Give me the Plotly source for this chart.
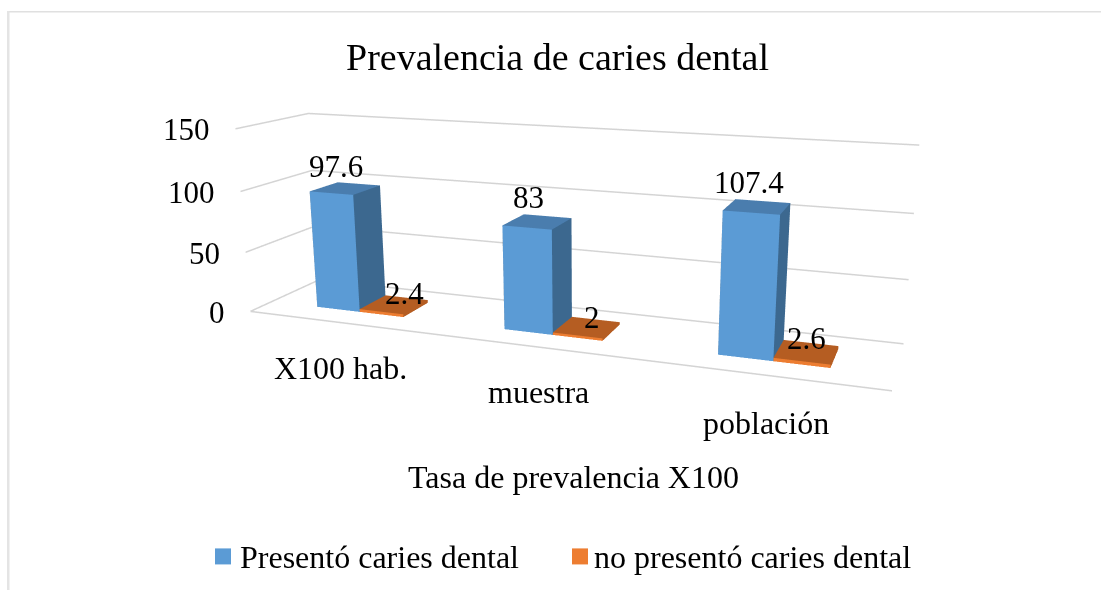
import numpy as np
import plotly.graph_objects as go

categories = ["X100 hab.", "muestra", "población"]
presento = [97.6, 83, 107.4]
no_presento = [2.4, 2, 2.6]
ticks = [0, 50, 100, 150]

# page and camera setup (the 3D viewport is larger than the window and is cropped by it)
W, H, TOP = 1180, 902.5, 195
eye = np.array([0.5798, -1.4857, 0.3863])
yaw, pitch, roll = -0.3456, -0.2584, 0.0008
ay, az = 0.1962, 0.2944
w, d = 0.2380, 0.2929
fwd = np.array([np.cos(pitch)*np.sin(yaw), np.cos(pitch)*np.cos(yaw), np.sin(pitch)])
rgt = np.cross(fwd, [0, 0, 1.0]); rgt /= np.linalg.norm(rgt)
upv = np.cross(rgt, fwd)
upv = -np.sin(roll)*rgt + np.cos(roll)*upv
center = eye + fwd*np.linalg.norm(eye)

def box(x0, x1, y0, y1, h, cf, cs, ct):
    xs = [x0, x1, x1, x0, x0, x1, x1, x0]
    ys = [y0, y0, y1, y1, y0, y0, y1, y1]
    zs = [0, 0, 0, 0, h, h, h, h]
    I = [0, 0, 1, 1, 4, 4, 3, 3, 0, 0]
    J = [1, 5, 2, 6, 5, 6, 2, 6, 3, 7]
    K = [5, 4, 6, 5, 6, 7, 6, 7, 7, 4]
    fc = [cf, cf, cs, cs, ct, ct, cs, cs, cs, cs]
    return go.Mesh3d(x=xs, y=ys, z=zs, i=I, j=J, k=K, facecolor=fc, flatshading=True, hoverinfo="skip",
                     lighting=dict(ambient=1, diffuse=0, specular=0, fresnel=0, roughness=1))

fig = go.Figure()
gx, gy, gz = [], [], []
for t in ticks:
    gx += [0, 0, 3, None]; gy += [0, 1, 1, None]; gz += [t, t, t, None]
gx += [0, 3]; gy += [0, 0]; gz += [0, 0]
fig.add_trace(go.Scatter3d(x=gx, y=gy, z=gz, mode="lines", line=dict(color="#d4d4d4", width=3),
                           hoverinfo="skip", showlegend=False))
for i in range(3):
    fig.add_trace(box(i+.5-w, i+.5, d, 1-d, presento[i], "#5b9bd5", "#3c688f", "#4a7dae"))
    fig.add_trace(box(i+.5, i+.5+w, d, 1-d, no_presento[i], "#ed7d31", "#b55d22", "#b55d22"))

serif = "Liberation Serif"
ann = []
def a(x, y, z, t, xs=0, ys=0, anchor="center", size=31):
    ann.append(dict(x=x, y=y, z=z, text=t, showarrow=False, xshift=xs, yshift=ys, xanchor=anchor,
                    font=dict(family=serif, size=size, color="#000")))
tick_dy = [-1, -1, -1, -1]
for t, s in zip(ticks, tick_dy):
    a(0, 0, t, str(t), -23, s, "right")
cat_dx, cat_dy = [0.5, 0, 1], [-45, -45, -48]
for i, c in enumerate(categories):
    a(i+.5, 0, 0, c, cat_dx[i], cat_dy[i], size=32)
top_dx, top_dy = [-9, -9, -8], [22, 24, 24]
low_dx, low_dy = [10.5, 5.5, 0], [11, 10, 13]
for i in range(3):
    a(i+.5-w/2, .5, presento[i], f"{presento[i]:g}", top_dx[i], top_dy[i])
    a(i+.5+w/2, .5, no_presento[i], f"{no_presento[i]:g}", low_dx[i], low_dy[i])

def py(v): return 1-(v+TOP)/H
def px(v): return v/W
def txt(x, yy, t, size, anchor="center"):
    return dict(x=px(x), y=py(yy), xref="paper", yref="paper", text=t, showarrow=False, xanchor=anchor,
                yanchor="middle", font=dict(family=serif, size=size, color="#000"))
anns = [txt(557, 57, "Prevalencia de caries dental", 38), txt(573, 477, "Tasa de prevalencia X100", 32),
        txt(238, 557, "Presentó caries dental", 32, "left"), txt(592, 557, "no presentó caries dental", 32, "left")]
def rect(x0, y0, x1, y1, c):
    return dict(type="rect", xref="paper", yref="paper", x0=px(x0), x1=px(x1), y0=py(y0), y1=py(y1),
                fillcolor=c, line=dict(width=0), layer="above")
shapes = [rect(215, 548, 231, 564, "#5b9bd5"), rect(572, 548, 588, 564, "#ed7d31"),
          rect(7, 11, 1101, 12.5, "#e0e0e0"), rect(7, 11, 9.5, 590, "#e4e4e4")]

fig.update_layout(width=W, height=H, margin=dict(l=0, r=0, t=0, b=0), paper_bgcolor="white", showlegend=False,
  scene=dict(domain=dict(x=[0, 1], y=[0, 1]), aspectmode="manual", aspectratio=dict(x=1, y=ay, z=az),
    xaxis=dict(visible=False, range=[0, 3]), yaxis=dict(visible=False, range=[0, 1]), zaxis=dict(visible=False, range=[0, 150]),
    camera=dict(eye=dict(x=float(eye[0]), y=float(eye[1]), z=float(eye[2])),
                center=dict(x=float(center[0]), y=float(center[1]), z=float(center[2])),
                up=dict(x=float(upv[0]), y=float(upv[1]), z=float(upv[2]))),
    annotations=ann),
  annotations=anns, shapes=shapes)
fig.write_html("out.html", config=dict(displayModeBar=False),
  post_script=f"document.documentElement.style.overflow='hidden';document.body.style.overflow='hidden';document.body.style.margin='0';document.querySelector('.plotly-graph-div').style.marginTop='-{TOP}px';")
